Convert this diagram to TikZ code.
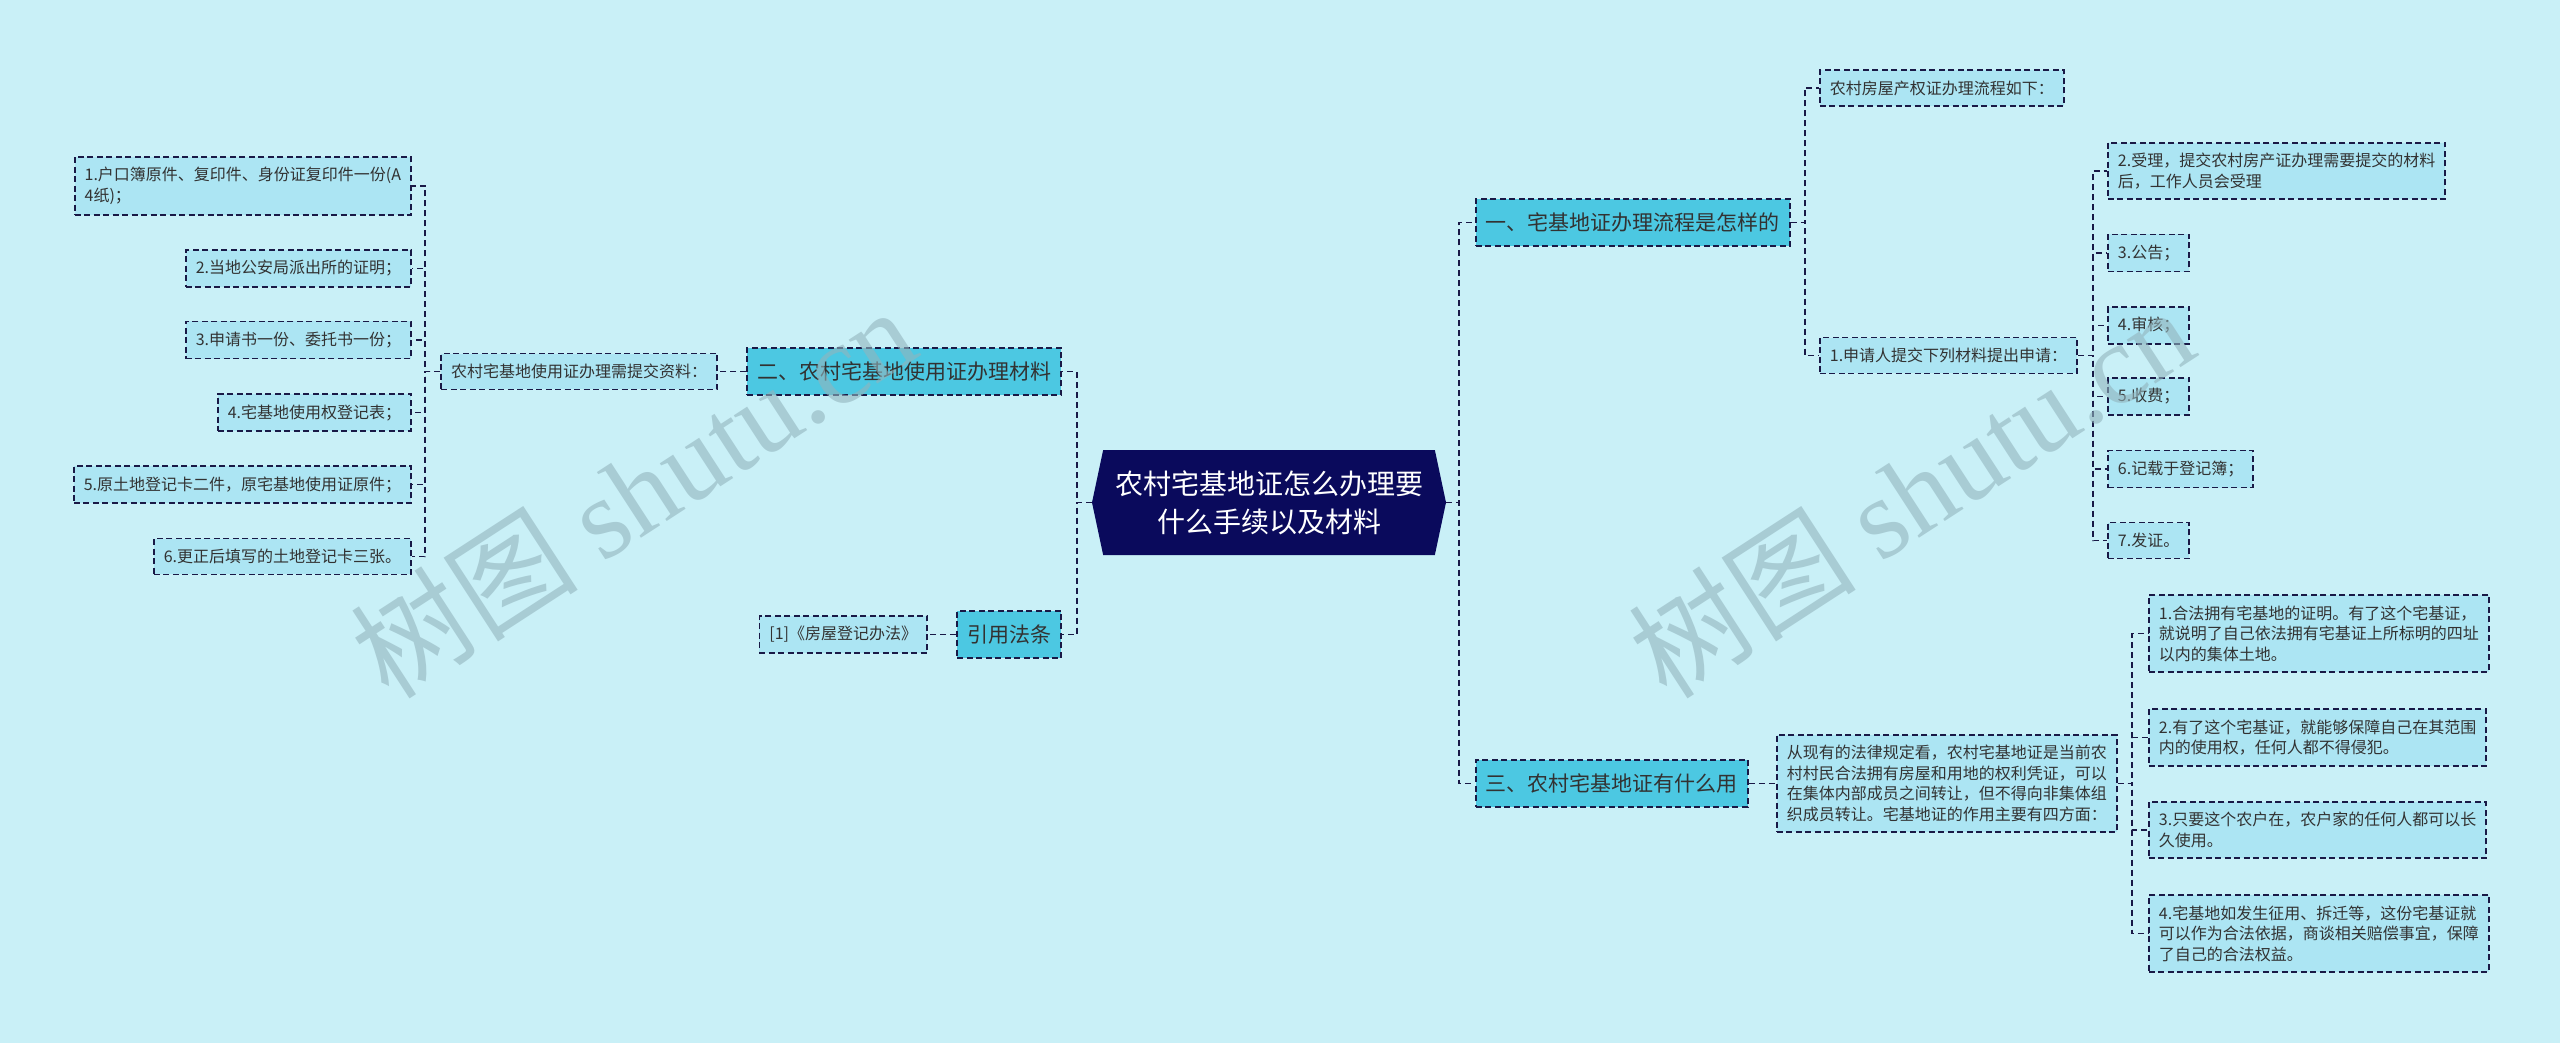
\documentclass[tikz,border=0pt]{standalone}
\usepackage{fontspec}
\setmainfont{Noto Sans CJK SC}
\newfontfamily\wmlatin{Liberation Serif}
\usetikzlibrary{shapes.symbols}
\definecolor{bgc}{RGB}{201,240,247}
\definecolor{leaffill}{RGB}{172,229,243}
\definecolor{mainfill}{RGB}{76,200,226}
\definecolor{navy}{RGB}{10,10,92}
\definecolor{edge}{RGB}{25,25,70}
\definecolor{txt}{RGB}{50,50,50}
\definecolor{wm}{RGB}{146,180,189}

\begin{document}
\begin{tikzpicture}[x=1pt,y=-1pt,
  leaf/.style={draw=edge,fill=leaffill,dash pattern=on 6pt off 3.5pt,line width=1.8pt,
    text=txt,font=\fontsize{16}{20.5}\selectfont,align=left,inner xsep=10pt,inner ysep=10.5pt},
  br/.style={leaf,fill=mainfill,font=\fontsize{21}{26}\selectfont,inner ysep=14pt},
  link/.style={draw=edge,line width=1.8pt,dash pattern=on 6pt off 4pt},
  wmark/.style={text=wm,opacity=.6,rotate=33,font=\fontsize{114}{114}\selectfont}]
  \fill[bgc] (0,0) rectangle (2560,1043);
  \useasboundingbox (0,0) rectangle (2560,1043);
  % centre
  \node[shape=signal,signal to=east and west,signal pointer angle=156,fill=navy,text=white,
    font=\fontsize{28}{38}\selectfont,align=center,minimum width=354pt,minimum height=105pt,
    inner sep=0pt] (c) at (1269,502.5) {农村宅基地证怎么办理要\\什么手续以及材料};
  % left side
  \node[br,anchor=east] (m2) at (1062,371.5) {二、农村宅基地使用证办理材料};
  \node[leaf,anchor=east] (s2) at (718,371.5) {农村宅基地使用证办理需提交资料：};
  \node[leaf,anchor=east] (l1) at (412,186) {1.户口簿原件、复印件、身份证复印件一份(A\\4纸)；};
  \node[leaf,anchor=east] (l2) at (412,268.5) {2.当地公安局派出所的证明；};
  \node[leaf,anchor=east] (l3) at (412,340) {3.申请书一份、委托书一份；};
  \node[leaf,anchor=east] (l4) at (412,412.5) {4.宅基地使用权登记表；};
  \node[leaf,anchor=east] (l5) at (412,484.5) {5.原土地登记卡二件，原宅基地使用证原件；};
  \node[leaf,anchor=east] (l6) at (412,556.5) {6.更正后填写的土地登记卡三张。};
  \node[br,anchor=east] (law) at (1062,634.5) {引用法条};
  \node[leaf,anchor=east] (ref) at (928,634.5) {[1]《房屋登记办法》};
  % right side
  \node[br,anchor=west] (m1) at (1475,222.5) {一、宅基地证办理流程是怎样的};
  \node[leaf,anchor=west] (r0) at (1819,88) {农村房屋产权证办理流程如下：};
  \node[leaf,anchor=west] (r1) at (1819,355.5) {1.申请人提交下列材料提出申请：};
  \node[leaf,anchor=west] (q2) at (2107,171) {2.受理，提交农村房产证办理需要提交的材料\\后，工作人员会受理};
  \node[leaf,anchor=west] (q3) at (2107,253) {3.公告；};
  \node[leaf,anchor=west] (q4) at (2107,325.5) {4.审核；};
  \node[leaf,anchor=west] (q5) at (2107,396.5) {5.收费；};
  \node[leaf,anchor=west] (q6) at (2107,469) {6.记载于登记簿；};
  \node[leaf,anchor=west] (q7) at (2107,540.5) {7.发证。};
  \node[br,anchor=west] (m3) at (1475,783.5) {三、农村宅基地证有什么用};
  \node[leaf,anchor=west] (para) at (1776,783.5) {从现有的法律规定看，农村宅基地证是当前农\\村村民合法拥有房屋和用地的权利凭证，可以\\在集体内部成员之间转让，但不得向非集体组\\织成员转让。宅基地证的作用主要有四方面：};
  \node[leaf,anchor=west] (p1) at (2148,633.5) {1.合法拥有宅基地的证明。有了这个宅基证，\\就说明了自己依法拥有宅基证上所标明的四址\\以内的集体土地。};
  \node[leaf,anchor=west] (p2) at (2148,737.5) {2.有了这个宅基证，就能够保障自己在其范围\\内的使用权，任何人都不得侵犯。};
  \node[leaf,anchor=west] (p3) at (2148,830) {3.只要这个农户在，农户家的任何人都可以长\\久使用。};
  \node[leaf,anchor=west] (p4) at (2148,933.5) {4.宅基地如发生征用、拆迁等，这份宅基证就\\可以作为合法依据，商谈相关赔偿事宜，保障\\了自己的合法权益。};
  % links
  \foreach \m in {m1,m3} \draw[link] (c.east) -- ++(13,0) |- (\m.west);
  \foreach \m in {m2,law} \draw[link] (c.west) -- ++(-15,0) |- (\m.east);
  \draw[link] (m2.west) -- (s2.east);
  \foreach \i in {1,...,6} \draw[link] (s2.west) -- ++(-15,0) |- (l\i.east);
  \draw[link] (law.west) -- (ref.east);
  \foreach \n in {r0,r1} \draw[link] (m1.east) -- ++(14,0) |- (\n.west);
  \foreach \i in {2,...,7} \draw[link] (r1.east) -- ++(15,0) |- (q\i.west);
  \draw[link] (m3.east) -- (para.west);
  \foreach \i in {1,...,4} \draw[link] (para.east) -- ++(14,0) |- (p\i.west);
  % watermark
  \node[wmark] (wm1) at (633,492) {树图 {\wmlatin shutu.cn}};
  \node[wmark] (wm2) at (1911,492) {树图 {\wmlatin shutu.cn}};
\end{tikzpicture}
\end{document}
